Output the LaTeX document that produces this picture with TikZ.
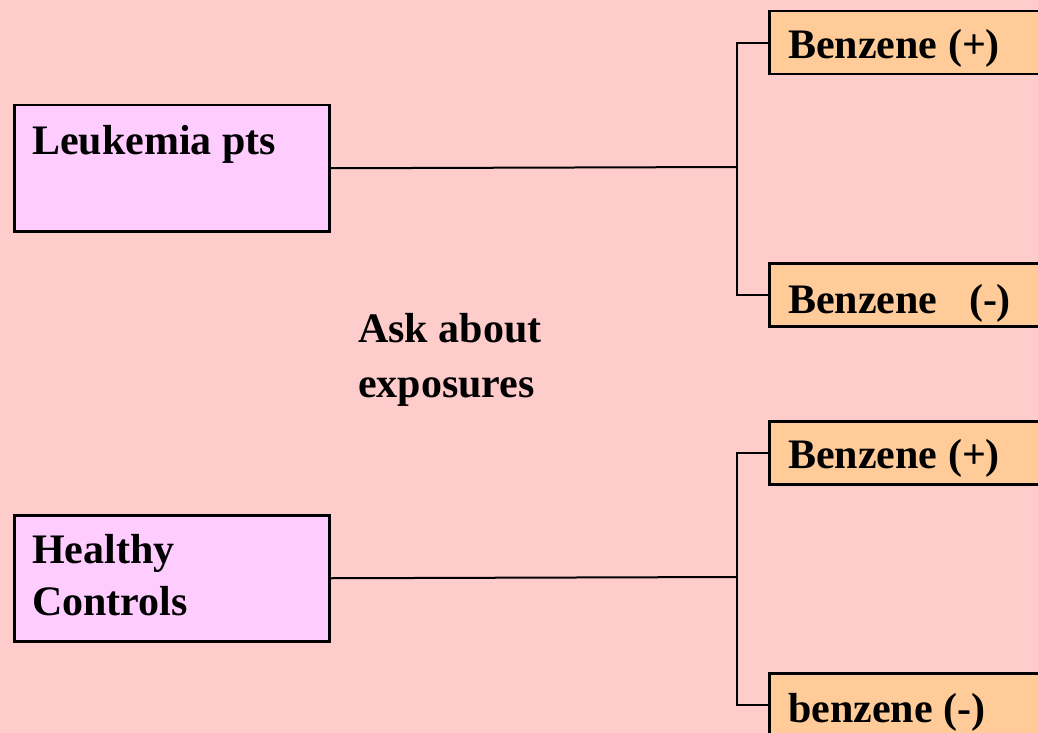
\documentclass[tikz,border=0pt]{standalone}
\usepackage{fontspec}
\setmainfont{Liberation Serif}
\definecolor{bgpink}{HTML}{FFCCCC}
\definecolor{groupfill}{HTML}{FFCCFF}
\definecolor{expfill}{HTML}{FFCC99}
\begin{document}
\begin{tikzpicture}[x=1pt,y=-1pt,
  groupbox/.style={draw=black,line width=2.5pt,fill=groupfill,rectangle,inner sep=0pt,anchor=north west,minimum width=315pt,minimum height=126pt},
  expbox/.style={draw=black,line width=2.5pt,fill=expfill,rectangle,inner sep=0pt,anchor=north west,minimum width=300pt,minimum height=63pt},
  lbl/.style={anchor=base west,inner sep=0pt,font=\fontsize{42}{52}\selectfont\bfseries},
  conn/.style={draw=black,line width=2pt}]
\useasboundingbox (0,0) rectangle (1038,733);
\clip (0,0) rectangle (1038,733);
\fill[bgpink] (0,0) rectangle (1038,733);
% left group boxes
\node[groupbox] (L) at (13,104) {};
\node[groupbox] (H) at (13,514) {};
% right exposure boxes
\node[expbox] (B1) at (768,10) {};
\node[expbox] (B2) at (768,262) {};
\node[expbox] (B3) at (768,420) {};
\node[expbox] (B4) at (768,672) {};
% junctions
\coordinate (j1) at (737,167);
\coordinate (j2) at (737,577);
% connectors
\draw[conn] (L.east) -- (j1);
\draw[conn] (B1.west) -| (j1) |- (B2.west);
\draw[conn] (H.east) -- (j2);
\draw[conn] (B3.west) -| (j2) |- (B4.west);
% texts
\node[lbl] (tL) at (32,154) {Leukemia pts};
\node[lbl] (tH1) at (32,563) {Healthy};
\node[lbl] (tH2) at (32,615) {Controls};
\node[lbl] (t1) at (788,59) {Benzene (+)};
\node[lbl] (t2) at (788,313) {Benzene\ \ \ (-)};
\node[lbl] (t3) at (788,468) {Benzene (+)};
\node[lbl] (t4) at (788,722) {benzene (-)};
\node[lbl] (ask1) at (358,342) {Ask about};
\node[lbl] (ask2) at (358,397) {exposures};
\end{tikzpicture}
\end{document}
